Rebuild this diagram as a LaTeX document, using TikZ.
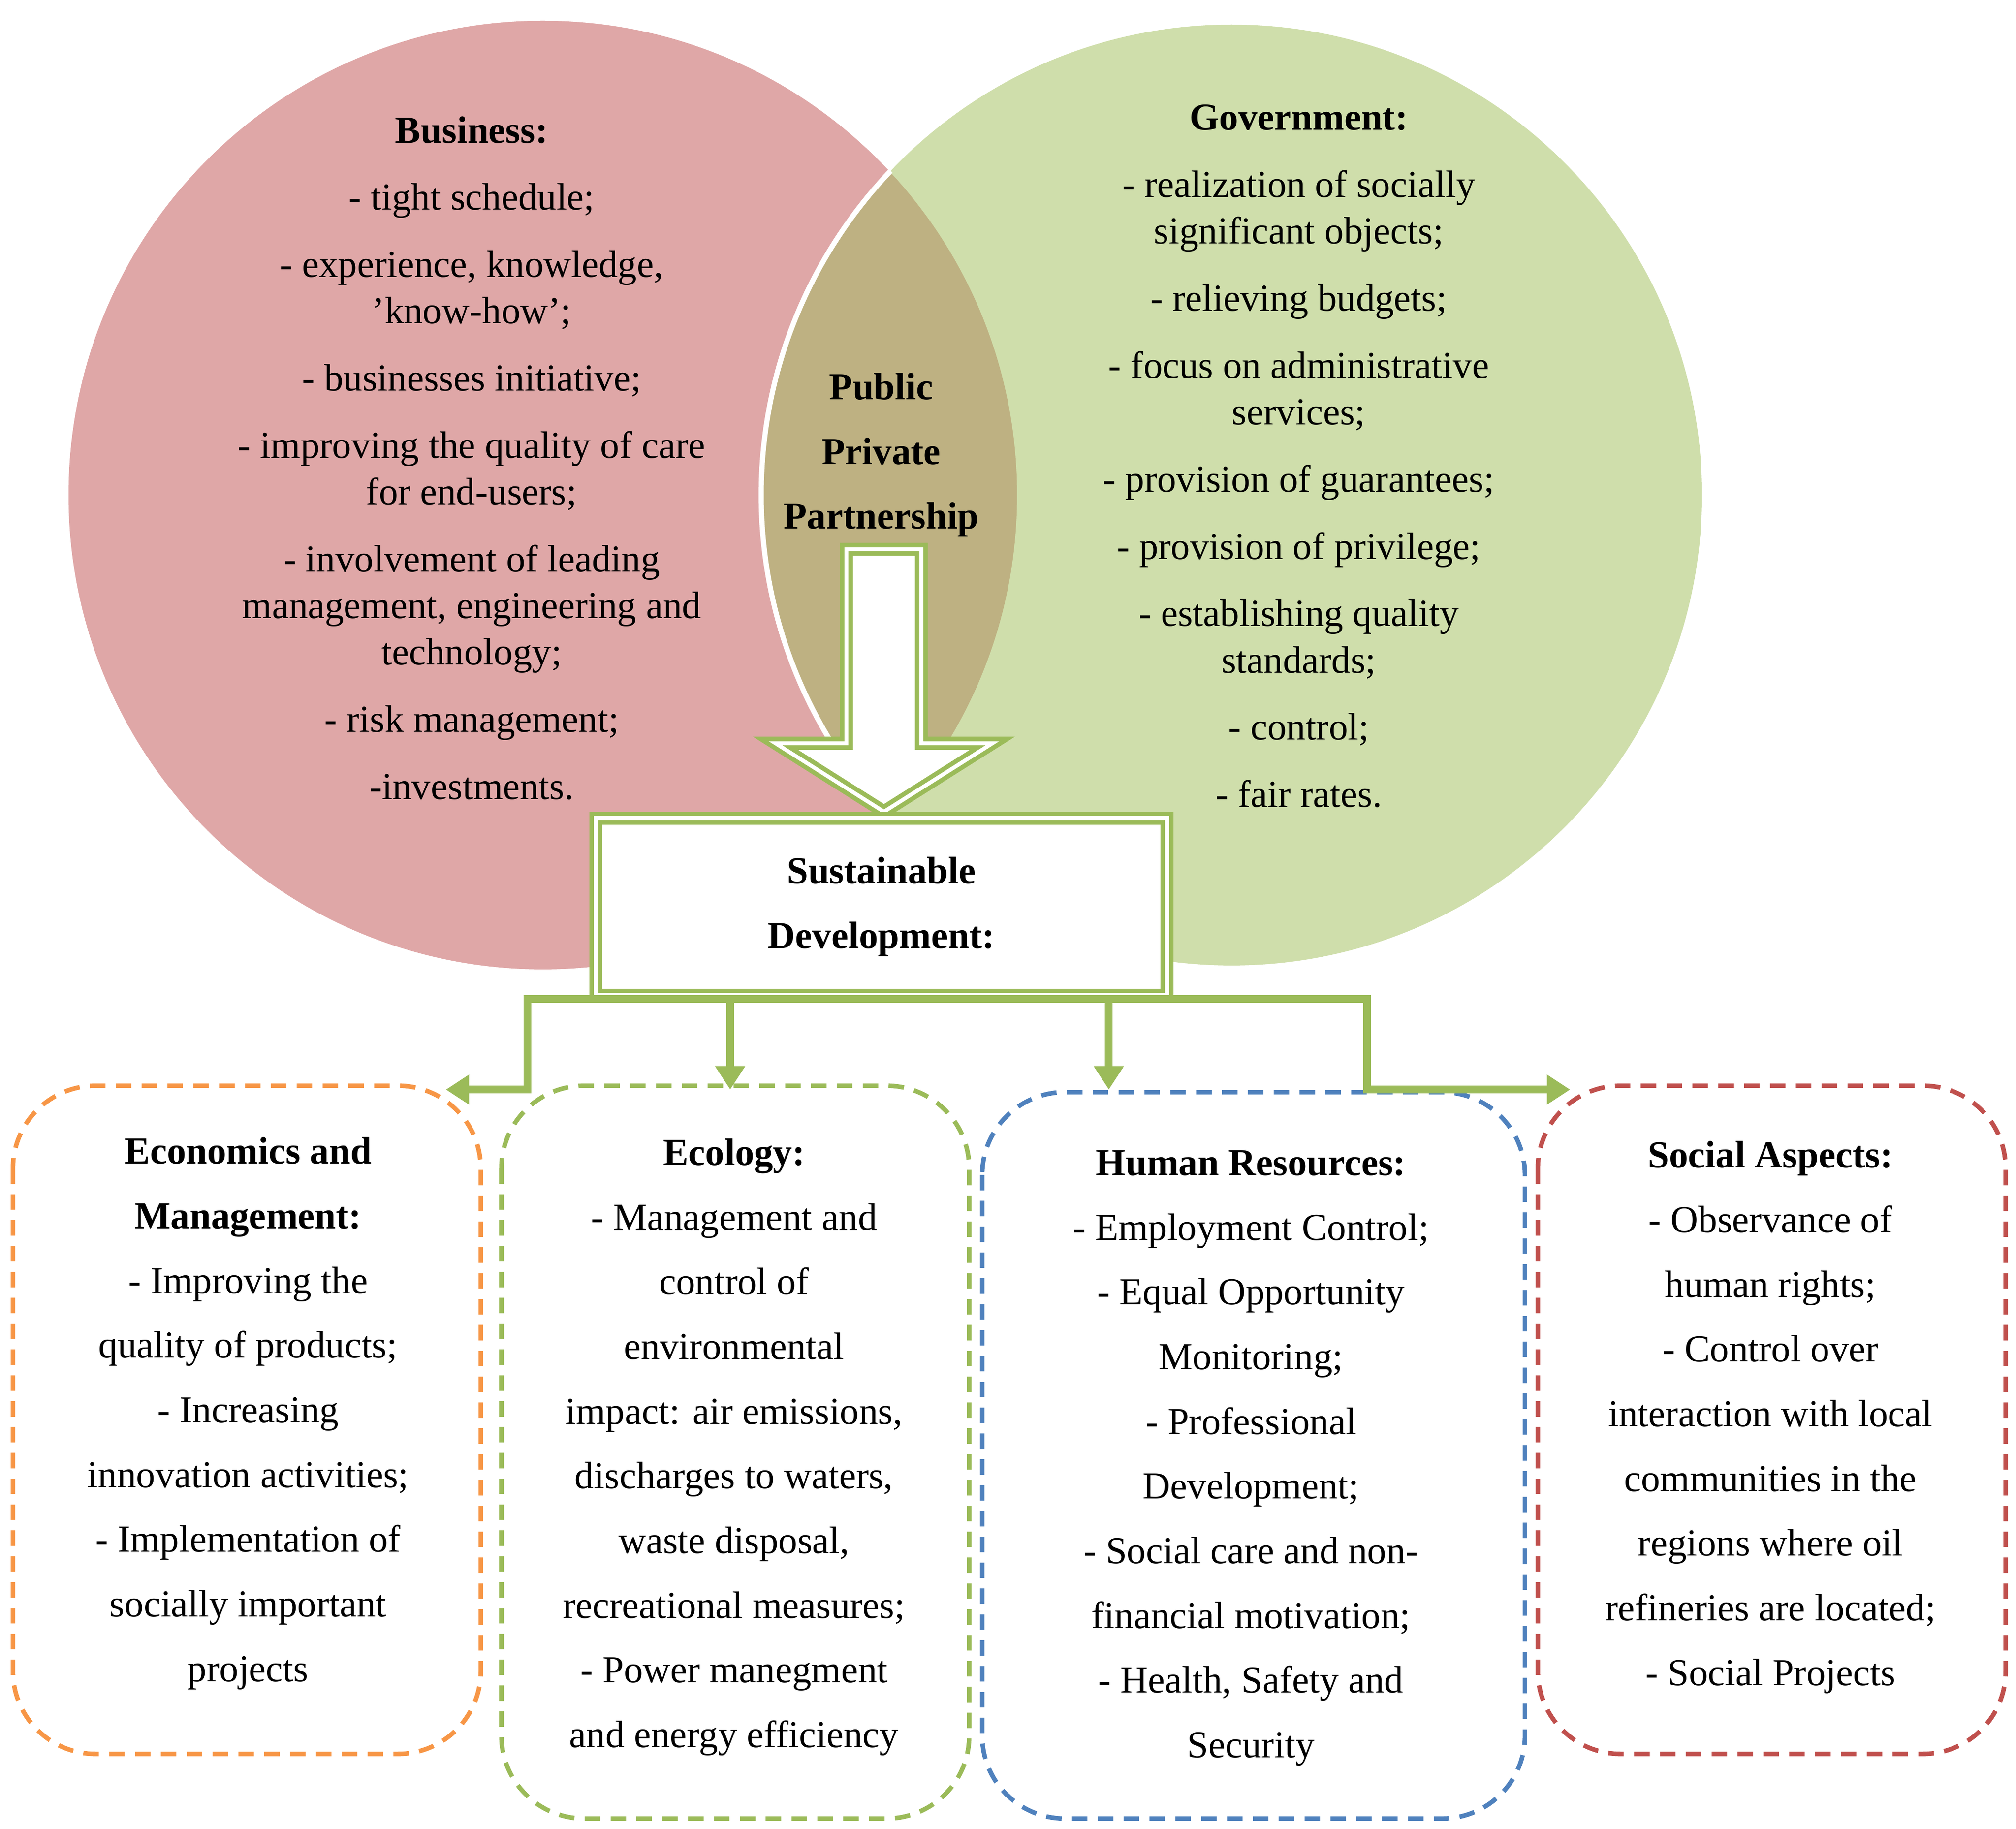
\documentclass[tikz,border=0pt]{standalone}
\usepackage{fontspec}
\usetikzlibrary{arrows.meta}
\setmainfont{Liberation Serif}
\definecolor{cpink}{HTML}{DFA7A7}
\definecolor{cgreen}{HTML}{CFDEAB}
\definecolor{clens}{HTML}{BEB182}
\definecolor{gline}{HTML}{9BBB59}
\definecolor{corange}{HTML}{F79646}
\definecolor{cblue}{HTML}{4F81BD}
\definecolor{cred}{HTML}{C0504D}
\newdimen\pu \pu=0.025cm
\begin{document}
\begin{tikzpicture}[x=0.025cm,y=-0.025cm,
  circtext/.style={align=center,font=\fontsize{21}{25.6}\selectfont},
  boxtext/.style={align=center,font=\fontsize{21}{35.6}\selectfont,anchor=north},
  dbox/.style={line width=3.5\pu,rounded corners=1.6cm,dash pattern=on 12\pu off 8\pu},
  conn/.style={gline,line width=6\pu},
  arr/.style={conn,-{Triangle[length=0.45cm,width=0.55cm]}}]
\useasboundingbox (0,0) rectangle (1560,1415);
% circles
\fill[cpink] (420,383) circle (367*0.025cm);
\fill[cgreen] (953,383) circle (364*0.025cm);
\begin{scope}
  \clip (420,383) circle (367*0.025cm);
  \fill[clens] (953,383) circle (364*0.025cm);
\end{scope}
\begin{scope}
  \clip (420,383) circle (368*0.025cm);
  \draw[white,line width=4\pu] (953,383) circle (364*0.025cm);
\end{scope}
\node[circtext,anchor=north] (bus) at (365,85) {\textbf{Business:}\\[0.4cm]
- tight schedule;\\[0.4cm]
- experience, knowledge,\\ 'know-how';\\[0.4cm]
- businesses initiative;\\[0.4cm]
- improving the quality of care\\ for end-users;\\[0.4cm]
- involvement of leading\\ management, engineering and\\ technology;\\[0.4cm]
- risk management;\\[0.4cm]
-investments.};
\node[circtext,anchor=north] (gov) at (1005,76) {\textbf{Government:}\\[0.4cm]
- realization of socially\\ significant objects;\\[0.4cm]
- relieving budgets;\\[0.4cm]
- focus on administrative\\ services;\\[0.4cm]
- provision of guarantees;\\[0.4cm]
- provision of privilege;\\[0.4cm]
- establishing quality\\ standards;\\[0.4cm]
- control;\\[0.4cm]
- fair rates.};
\node[circtext,font=\fontsize{21}{35.6}\selectfont\bfseries] (ppp) at (682,352) {Public\\Private\\Partnership};
% hollow arrow
\def\arrowpath{(655,425) -- (713,425) -- (713,575) -- (768,575) -- (684,628) -- (600,575) -- (655,575) -- cycle}
\fill[white] \arrowpath;
\draw[gline,line width=10\pu,line join=miter] \arrowpath;
\draw[white,line width=3\pu,line join=miter] \arrowpath;
% SD box
\node[draw=none,minimum width=442*0.025cm,minimum height=137*0.025cm] (sd) at (682,701.5) {};
\fill[white] (461,633) rectangle (903,770);
\draw[gline,line width=10\pu] (461,633) rectangle (903,770);
\draw[white,line width=3\pu] (461,633) rectangle (903,770);
\node[circtext,font=\fontsize{21}{35.6}\selectfont\bfseries] at (sd) {Sustainable\\Development:};
% dashed boxes
\draw[dbox,corange] (10,840) rectangle (372,1357);
\draw[dbox,gline] (388,840) rectangle (750,1407);
\draw[dbox,cblue] (760,845) rectangle (1180,1407);
\draw[dbox,cred] (1190,840) rectangle (1552,1357);
\coordinate (b1) at (345,843);
\coordinate (b2) at (565,843);
\coordinate (b3) at (858,843);
\coordinate (b4) at (1215,843);
% connectors
\draw[conn] (405,773) -- (1061,773);
\draw[arr] (408,773) |- (b1);
\draw[arr] (565,773) -- (b2);
\draw[arr] (858,773) -- (b3);
\draw[arr] (1058,773) |- (b4);
% box texts
\node[boxtext] (t1) at (192,875) {\textbf{Economics and}\\ \textbf{Management:}\\- Improving the\\quality of products;\\- Increasing\\innovation activities;\\- Implementation of\\socially important\\projects};
\node[boxtext] (t2) at (568,876) {\textbf{Ecology:}\\- Management and\\control of\\environmental\\impact: air emissions,\\discharges to waters,\\waste disposal,\\recreational measures;\\- Power manegment\\and energy efficiency};
\node[boxtext] (t3) at (968,885) {\textbf{Human Resources:}\\- Employment Control;\\- Equal Opportunity\\Monitoring;\\- Professional\\Development;\\- Social care and non-\\financial motivation;\\- Health, Safety and\\Security};
\node[boxtext] (t4) at (1370,878) {\textbf{Social Aspects:}\\- Observance of\\human rights;\\- Control over\\interaction with local\\communities in the\\regions where oil\\refineries are located;\\- Social Projects};
\end{tikzpicture}
\end{document}
